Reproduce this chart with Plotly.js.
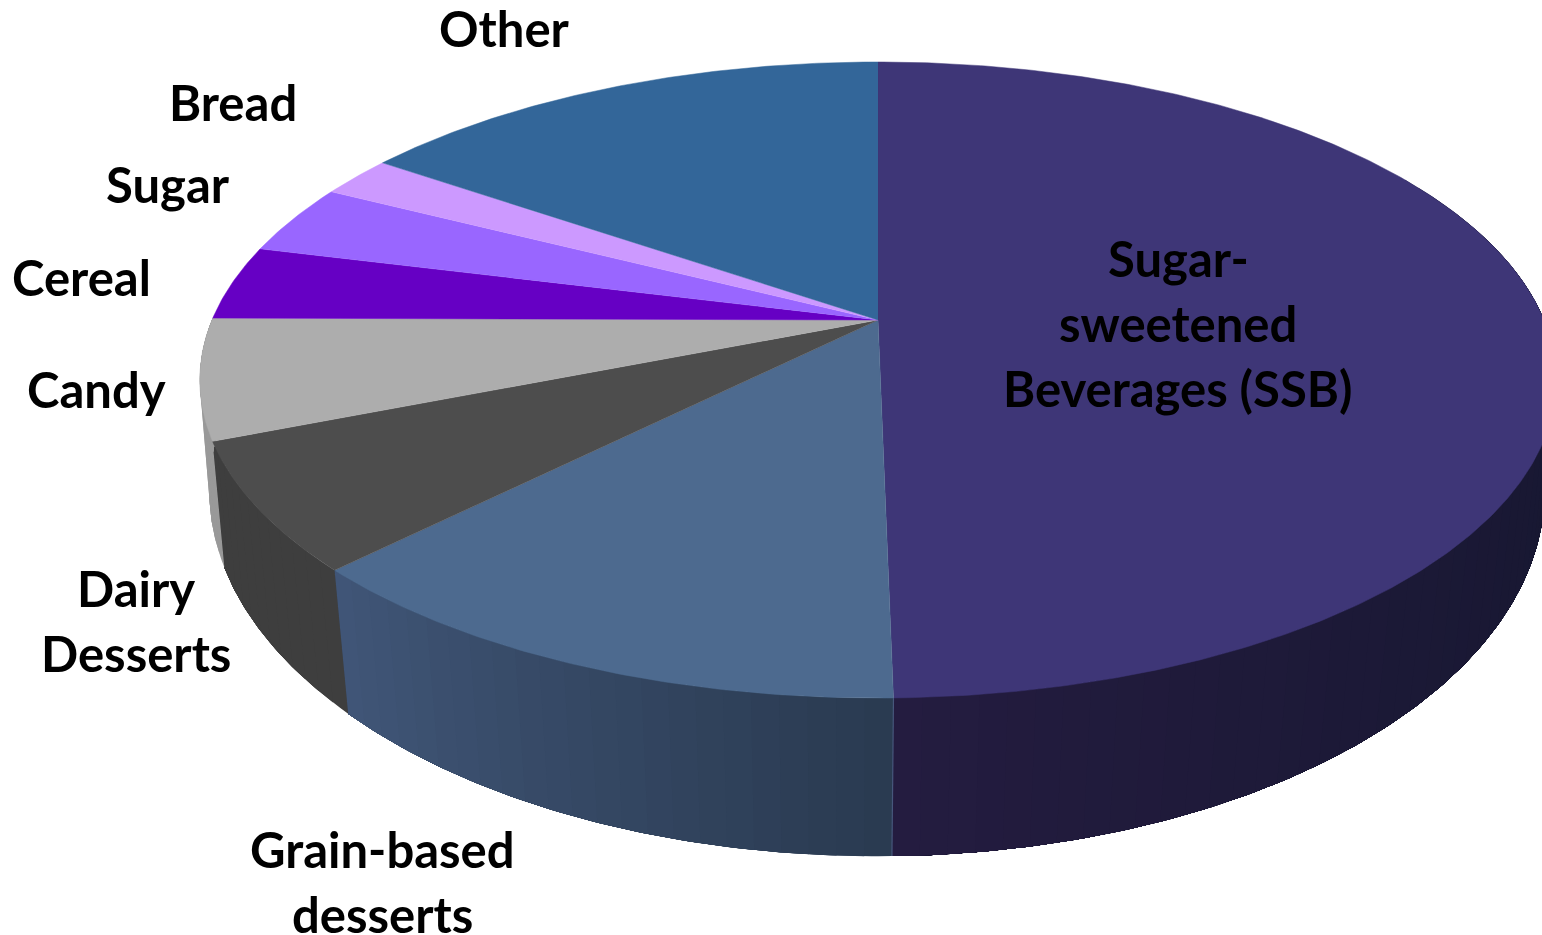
<!DOCTYPE html>
<html>
<head>
<meta charset="utf-8">
<script src="https://cdn.plot.ly/plotly-3.0.1.min.js"></script>
<style>html,body{margin:0;padding:0;background:#fff;overflow:hidden}#chart{width:1542px;height:935px}</style>
</head>
<body>
<div id="chart"></div>
<script>
// Sources of added sugars, share of intake (%), clockwise from twelve o'clock
const categories = ['Sugar-sweetened Beverages (SSB)', 'Grain-based desserts', 'Dairy Desserts', 'Candy', 'Cereal', 'Sugar', 'Bread', 'Other'];
const shares = [49.7, 12.8, 6.5, 6.1, 3.8, 3.6, 2.1, 15.4];

const topColors = ['#3e3677', '#4d6a8f', '#4d4d4d', '#adadad', '#6600c4', '#9966ff', '#cc99ff', '#336699'];
// Side wall shading: colour at the start and end of each slice's arc
const sideRgbStart = [[22, 23, 48], [42, 58, 80], [62, 62, 62], [153, 153, 153]];
const sideRgbEnd = [[36, 28, 64], [64, 86, 120], [62, 62, 62], [153, 153, 153]];
const sideEase = [2.2, 1, 1, 1];

const labelLines = [
  ['Sugar-', 'sweetened', 'Beverages (SSB)'],
  ['Grain-based', 'desserts'],
  ['Dairy', 'Desserts'],
  ['Candy'], ['Cereal'], ['Sugar'], ['Bread'], ['Other']
];
const labelCenters = [[1178, 258], [382, 849], [136, 588], [96, 389], [81, 277], [168, 184], [233, 102], [504, 28]];
const lineGap = 65;

// Perspective views of the disc: upper face and lower rim, in canvas pixels
const upperFace = {cx: 878, cy: 320, bx: 666, by: 306.7, k: 0.1887};
const lowerRim = {cx: 877, cy: 428, bx: 658, by: 355.4, k: 0.17};

function project(view, deg) {
  const t = deg * Math.PI / 180, u = Math.sin(t), v = Math.cos(t), w = 1 + view.k * v;
  return [view.cx + view.bx * u / w, view.cy - view.by * v / w];
}
function arcDegrees(a, b) {
  const out = [], n = Math.max(2, Math.ceil((b - a) / 0.5));
  for (let i = 0; i <= n; i++) out.push(a + (b - a) * i / n);
  return out;
}
function polygon(points, color, name, width) {
  return {
    type: 'scatter', mode: 'lines', x: points.map(p => p[0]), y: points.map(p => p[1]),
    fill: 'toself', fillcolor: color, line: {color: color, width: width},
    name: name, hoverinfo: 'name', showlegend: false
  };
}

const total = shares.reduce((a, b) => a + b, 0);
let running = 0;
const edges = shares.map(s => { const e = [running, running + s / total * 360]; running = e[1]; return e; });

const traces = [];

// Side walls of the front slices; each shading band runs on to the end of its
// slice and the next one paints over it, so no gaps open between bands
sideRgbStart.forEach((c0, i) => {
  const [a, b] = edges[i], c1 = sideRgbEnd[i];
  const from = i === 0 ? 60 : a, bands = Math.max(1, Math.round((b - from) / 2));
  for (let j = 0; j < bands; j++) {
    const d0 = from + (b - from) * j / bands, f = Math.pow((j + 0.5) / bands, sideEase[i]);
    const rgb = c0.map((x, n) => Math.round(x + (c1[n] - x) * f));
    const arc = arcDegrees(d0, b);
    const pts = arc.map(d => project(upperFace, d)).concat(arc.slice().reverse().map(d => project(lowerRim, d)));
    traces.push(polygon(pts, `rgb(${rgb.join(',')})`, categories[i], 0));
  }
});

// Upper face of every slice, apex to rim
edges.forEach(([a, b], i) => {
  const pts = [[upperFace.cx, upperFace.cy]].concat(arcDegrees(a, b).map(d => project(upperFace, d)));
  traces.push(polygon(pts, topColors[i], categories[i], 0.5));
});

// Thin highlight where the two largest walls meet
const seam = edges[0][1];
traces.push({
  type: 'scatter', mode: 'lines',
  x: [project(upperFace, seam)[0], project(lowerRim, seam)[0]],
  y: [project(upperFace, seam)[1], project(lowerRim, seam)[1]],
  line: {color: '#47577c', width: 1.2}, hoverinfo: 'skip', showlegend: false
});

const annotations = [];
labelLines.forEach((lines, i) => {
  lines.forEach((text, j) => {
    annotations.push({
      x: labelCenters[i][0], y: labelCenters[i][1] + j * lineGap, xref: 'x', yref: 'y',
      text: text, showarrow: false, xanchor: 'center', yanchor: 'middle',
      font: {family: 'Lato, "Open Sans", sans-serif', size: 49, color: '#000', weight: 700}
    });
  });
});

Plotly.newPlot('chart', traces, {
  width: 1542, height: 935, autosize: false,
  margin: {l: 0, r: 0, t: 0, b: 0},
  paper_bgcolor: '#fff', plot_bgcolor: '#fff', showlegend: false,
  xaxis: {range: [0, 1542], visible: false, fixedrange: true},
  yaxis: {range: [935, 0], visible: false, fixedrange: true},
  annotations: annotations
}, {displayModeBar: false, staticPlot: true});
</script>
</body>
</html>
